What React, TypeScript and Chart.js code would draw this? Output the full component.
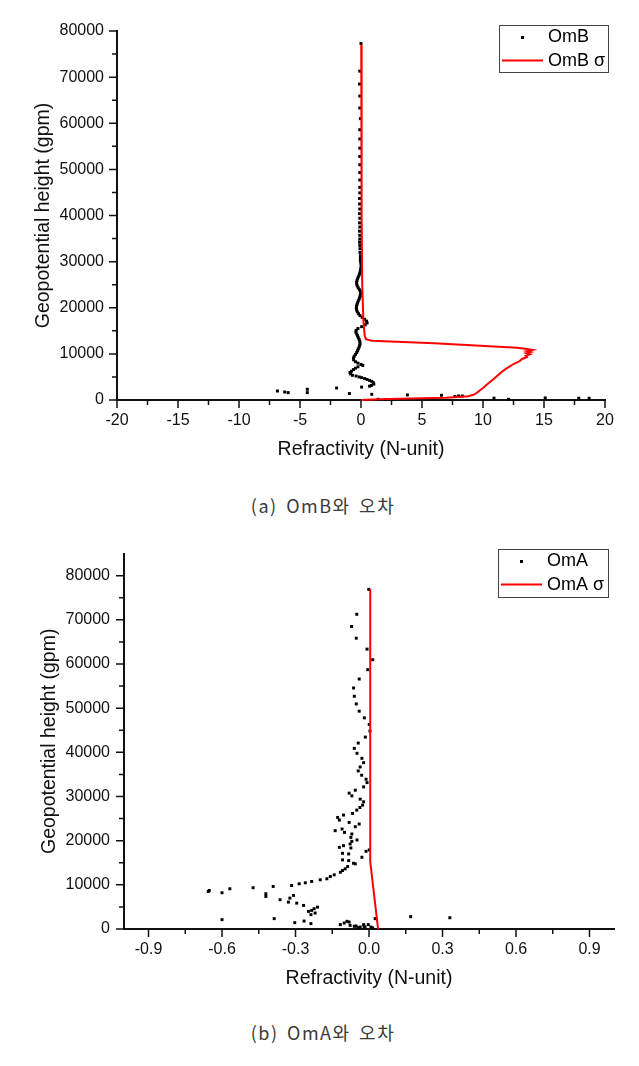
import React, { useEffect, useRef } from 'react';
import { Chart, registerables } from 'chart.js';

Chart.register(...registerables);

const FONT = '"Liberation Sans", Arial, Helvetica, sans-serif';

// ---------------- (a) OmB ----------------
const ombHeight = [
  77300, 71300, 68500, 65900, 63300, 61000, 58600, 56600, 54600, 52800, 51000, 49300, 47700, 46100, 44900,
  43700, 42500, 41400, 40400, 39400, 38400, 37500, 36600, 35700, 34900, 34200, 33500, 32800, 32000, 31300, 30700,
  30300, 29900, 29500, 29100, 28700, 28300, 27900, 27500, 27100, 26700, 26300, 25900, 25500, 25100, 24700,
  24300, 23900, 23500, 23100, 22700, 22300, 21900, 21500, 21100, 20700, 20300, 19900, 19500, 19100, 18700,
  18300, 17900, 17500, 17100, 16700, 16300, 15900, 15500, 15100, 14700, 14300, 13900, 13500, 13100, 12700,
  12300, 11900, 11500, 11100, 10700, 10300, 9900, 9500, 9100, 8700, 8300, 8000, 7700, 7500,
  7200, 6900, 6600, 6250, 5950, 5650, 5350, 5200, 5000, 4850, 4650, 4450, 4250, 4050, 3750, 3450, 3150, 3000,
  2800, 2600, 2320, 1600, 1950, 1730, 1600, 1400, 1230, 1100, 1020, 870, 760, 870, 400, 150, 450, 380, 380,
  140, 110, 90,
];
const ombValue = [
  0.0, -0.1, -0.12, -0.1, -0.1, -0.05, -0.1, -0.1, -0.1, -0.1, -0.1, -0.1, -0.1, -0.1, -0.1,
  -0.12, -0.12, -0.1, -0.12, -0.1, -0.12, -0.1, -0.12, -0.1, -0.1, -0.12, -0.1, -0.08, -0.08, -0.05, -0.05,
  -0.05, -0.02, 0.0, 0.02, 0.0, -0.03, -0.06, -0.1, -0.15, -0.22, -0.28, -0.33, -0.36, -0.35, -0.3,
  -0.22, -0.12, -0.05, -0.03, -0.06, -0.1, -0.15, -0.22, -0.28, -0.33, -0.37, -0.38, -0.36, -0.3, -0.2,
  -0.08, 0.1, 0.3, 0.45, 0.5, 0.35, 0.05, -0.25, -0.4, -0.42, -0.35, -0.28, -0.22, -0.15, -0.1,
  -0.08, -0.1, -0.15, -0.22, -0.28, -0.35, -0.45, -0.55, -0.62, -0.6, -0.45, -0.25, 0.0, 0.15,
  -0.25, -0.45, -0.62, -0.78, -0.9, -0.85, -0.7, -0.4, -0.15, 0.05, 0.3, 0.5, 0.7, 0.88, 1.0, 1.05, 0.85, 0.7,
  0.05, -2.0, -4.4, -4.4, -6.85, -6.25, -5.97, -0.95, 0.88, 3.8, 6.6, 8.0, 7.7, 8.3, 10.9, 12.1, 15.1, 17.85, 18.7,
  1.4, 2.0, 2.6,
];
const ombSigmaHeight = [
  77000, 40000, 25000, 17500, 14000, 13200, 12850, 12300, 11350, 11050, 10850, 10600, 10400, 10150, 9900,
  9600, 9300, 8900, 8400, 7800, 7300, 6800, 6000, 5300, 4400, 3500, 2600, 1800, 1200, 800, 500, 300, 150, 0,
];
const ombSigmaValue = [
  0.02, 0.05, 0.1, 0.19, 0.3, 0.4, 0.9, 6.0, 12.8, 13.6, 14.05, 13.6, 13.9, 13.55, 13.85,
  13.5, 13.6, 13.2, 13.0, 12.5, 12.2, 11.9, 11.5, 11.2, 10.8, 10.4, 10.0, 9.6, 9.3, 8.8, 7.0, 4.0, 1.5, 0.0,
];
const xTicksA = [-20, -15, -10, -5, 0, 5, 10, 15, 20];
const xMinorA = [-17.5, -12.5, -7.5, -2.5, 2.5, 7.5, 12.5, 17.5];
const yTicks = [0, 10000, 20000, 30000, 40000, 50000, 60000, 70000, 80000];
const yMinor = [5000, 15000, 25000, 35000, 45000, 55000, 65000, 75000];

// ---------------- (b) OmA ----------------
const omaHeight = [
  76900, 71260, 68490, 65850, 63370, 60970, 58720, 56600, 54570, 52700, 50960, 49320, 47810, 46320, 44810,
  43450, 42100, 40900, 39780, 38650, 37660, 36690, 35790, 34820, 33910, 33150, 32180, 31430, 30760, 30150,
  29400, 28800, 28050, 27510, 26920, 26160, 25800, 25260, 24670, 24130, 23770, 23160, 22640, 22260, 21870,
  21510, 20750, 20160, 19840, 19260, 18870, 18490, 18350, 17900, 17590, 17140, 17000, 16240, 15650, 15490,
  14880, 14750, 14140, 13620, 13240, 12850, 12270, 11880, 11370, 11140, 10760, 10460, 10240, 9850, 9630,
  9340, 9110, 8730, 8500, 8210, 7600, 7980, 7370, 6990, 6630, 6090, 5860, 5340, 4960, 4600, 4220, 3990,
  3610, 3250, 2350, 2120, 1440, 1800, 1220, 990, 1350, 1740, 1580, 830, 680, 450, 990, 450, 990, 450,
  2340, 2800, 2550, 610, 610, 250, 300,
];
const omaValue = [
  -0.001, -0.05, -0.071, -0.052, -0.008, 0.015, -0.005, -0.04, -0.063, -0.06, -0.052, -0.04, -0.019, 0.001, 0.004,
  -0.015, -0.044, -0.06, -0.049, -0.029, -0.022, -0.036, -0.044, -0.03, -0.012, -0.008, -0.022, -0.056, -0.081, -0.07,
  -0.036, -0.022, -0.026, -0.037, -0.05, -0.067, -0.104, -0.128, -0.121, -0.081, -0.04, -0.056, -0.11, -0.138, -0.1,
  -0.07, -0.074, -0.049, -0.07, -0.077, -0.104, -0.121, -0.074, 0.001, -0.012, -0.108, -0.083, -0.029, -0.108, -0.083,
  -0.063, -0.056, -0.087, -0.097, -0.108, -0.117, -0.142, -0.158, -0.172, -0.199, -0.234, -0.26, -0.285, -0.316, -0.391,
  -0.473, -0.568, -0.652, -0.656, -0.6, -0.308, -0.421, -0.421, -0.323, -0.363, -0.329, -0.295, -0.267, -0.21, -0.224, -0.234, -0.247,
  -0.22, -0.237, -0.387, -0.6, -0.303, -0.265, -0.237, -0.117, -0.101, -0.09, -0.081, -0.077, -0.053, -0.036, -0.022, -0.016, -0.003, 0.008,
  0.025, 0.17, 0.33, -0.06, -0.02, 0.015, -0.045,
];
const omaSigmaHeight = [77000, 15300, 0];
const omaSigmaValue = [0.005, 0.005, 0.037];
const xTicksB = [-0.9, -0.6, -0.3, 0, 0.3, 0.6, 0.9];
const xMinorB = [-0.75, -0.45, -0.15, 0.15, 0.45, 0.75];

const toPoints = (xs: number[], ys: number[]) => xs.map((x, i) => ({ x, y: ys[i] }));

const axisTicksPlugin = {
  id: 'axisTicks',
  afterDraw(chart: any, _args: any, opts: any) {
    const { ctx, chartArea } = chart;
    const xs = chart.scales.x;
    const ys = chart.scales.y;
    ctx.save();
    ctx.strokeStyle = '#111';
    ctx.lineWidth = 1.5;
    ctx.beginPath();
    const b = chartArea.bottom;
    const l = chartArea.left;
    opts.xMajor.forEach((v: number) => {
      const p = xs.getPixelForValue(v);
      ctx.moveTo(p, b); ctx.lineTo(p, b + 8);
    });
    opts.xMinor.forEach((v: number) => {
      const p = xs.getPixelForValue(v);
      ctx.moveTo(p, b); ctx.lineTo(p, b + 5);
    });
    opts.yMajor.forEach((v: number) => {
      const p = ys.getPixelForValue(v);
      ctx.moveTo(l, p); ctx.lineTo(l - 8, p);
    });
    opts.yMinor.forEach((v: number) => {
      const p = ys.getPixelForValue(v);
      ctx.moveTo(l, p); ctx.lineTo(l - 5, p);
    });
    ctx.stroke();
    ctx.restore();
  },
};

const boxLegendPlugin = {
  id: 'boxLegend',
  afterDraw(chart: any, _args: any, opts: any) {
    const { ctx } = chart;
    const { x, y, w, h, labels } = opts;
    ctx.save();
    ctx.fillStyle = '#fff';
    ctx.fillRect(x, y, w, h);
    ctx.strokeStyle = '#444';
    ctx.lineWidth = 1;
    ctx.strokeRect(x + 0.5, y + 0.5, w, h);
    ctx.fillStyle = '#000';
    ctx.fillRect(x + 22, y + 11, 3, 3);
    ctx.strokeStyle = '#ff0000';
    ctx.lineWidth = 2;
    ctx.beginPath();
    ctx.moveTo(x + 3, y + 35.5);
    ctx.lineTo(x + 44, y + 35.5);
    ctx.stroke();
    ctx.fillStyle = '#000';
    ctx.font = `18px ${FONT}`;
    ctx.textBaseline = 'middle';
    ctx.textAlign = 'left';
    ctx.fillText(labels[0], x + 49, y + 12.5);
    ctx.fillText(labels[1], x + 49, y + 36);
    ctx.restore();
  },
};

function buildConfig(p: any) {
  return {
    type: 'scatter',
    data: {
      datasets: [
        {
          label: p.sigmaLabel,
          data: toPoints(p.sigmaX, p.sigmaY),
          showLine: true,
          borderColor: '#ff0000',
          borderWidth: 2,
          pointRadius: 0,
          fill: false,
          tension: 0,
          order: 0,
          clip: false,
        },
        {
          label: p.pointLabel,
          data: toPoints(p.ptX, p.ptY),
          showLine: false,
          pointStyle: 'rect',
          pointRadius: 2.1,
          pointBackgroundColor: '#000',
          pointBorderWidth: 0,
          order: 1,
          clip: false,
        },
      ],
    },
    options: {
      responsive: false,
      animation: false,
      events: [],
      layout: { padding: p.padding },
      plugins: {
        legend: { display: false },
        tooltip: { enabled: false },
        axisTicks: { xMajor: p.xTicks, xMinor: p.xMinor, yMajor: yTicks, yMinor: yMinor },
        boxLegend: p.legend,
      },
      scales: {
        x: {
          type: 'linear',
          min: p.xMin,
          max: p.xMax,
          afterBuildTicks: (s: any) => { s.ticks = p.xTicks.map((v: number) => ({ value: v })); },
          afterFit: (s: any) => { s.height = 61; },
          grid: { display: false, drawTicks: false },
          border: { display: true, color: '#111', width: 2 },
          ticks: {
            autoSkip: false, maxRotation: 0, padding: 11, color: '#111',
            font: { family: FONT, size: 16 },
            callback: (v: number) => p.xFmt(v),
          },
          title: {
            display: true, text: 'Refractivity (N-unit)', color: '#111', padding: 0,
            font: { family: FONT, size: 19.5 },
          },
        },
        y: {
          type: 'linear',
          min: 0,
          max: p.yMax,
          afterBuildTicks: (s: any) => { s.ticks = yTicks.map((v) => ({ value: v })); },
          afterFit: (s: any) => { s.width = p.yWidth; },
          grid: { display: false, drawTicks: false },
          border: { display: true, color: '#111', width: 2 },
          ticks: {
            autoSkip: false, padding: p.yPad, color: '#111',
            font: { family: FONT, size: 16 },
            callback: (v: number) => String(v),
          },
          title: {
            display: true, text: 'Geopotential height (gpm)', color: '#111',
            padding: { top: p.yTitlePad, bottom: 0 },
            font: { family: FONT, size: 19.5 },
          },
        },
      },
    },
    plugins: [axisTicksPlugin, boxLegendPlugin],
  };
}

function ChartPanel({ top, height, cfg }: { top: number; height: number; cfg: any }) {
  const ref = useRef<HTMLCanvasElement | null>(null);
  useEffect(() => {
    const chart = new Chart(ref.current as HTMLCanvasElement, buildConfig(cfg) as any);
    return () => chart.destroy();
  }, []);
  return (
    <canvas
      ref={ref}
      width={639}
      height={height}
      style={{ position: 'absolute', left: 0, top, width: 639, height }}
    />
  );
}

const cfgA = {
  sigmaLabel: 'OmB σ', pointLabel: 'OmB',
  sigmaX: ombSigmaValue, sigmaY: ombSigmaHeight,
  ptX: ombValue, ptY: ombHeight,
  xMin: -20, xMax: 20, yMax: 80000,
  xTicks: xTicksA, xMinor: xMinorA,
  xFmt: (v: number) => String(v),
  padding: { top: 31, right: 34, bottom: 19, left: 0 },
  yWidth: 117, yPad: 13, yTitlePad: 32,
  legend: { x: 499, y: 25, w: 109, h: 47, labels: ['OmB', 'OmB σ'] },
};

const cfgB = {
  sigmaLabel: 'OmA σ', pointLabel: 'OmA',
  sigmaX: omaSigmaValue, sigmaY: omaSigmaHeight,
  ptX: omaValue, ptY: omaHeight,
  xMin: -1, xMax: 1, yMax: 85000,
  xTicks: xTicksB, xMinor: xMinorB,
  xFmt: (v: number) => v.toFixed(1),
  padding: { top: 22, right: 25, bottom: 10, left: 0 },
  yWidth: 124, yPad: 14, yTitlePad: 38,
  legend: { x: 498, y: 19, w: 110, h: 48, labels: ['OmA', 'OmA σ'] },
};

const captionStyle: React.CSSProperties = {
  position: 'absolute', left: 0, width: 646, textAlign: 'center',
  fontFamily: '"Noto Sans CJK KR", sans-serif', fontSize: 18, lineHeight: '20px',
  letterSpacing: 1.5, color: '#3a3a3a', wordSpacing: 3,
};

export default function App() {
  return (
    <div style={{ position: 'fixed', left: 0, top: 0, width: 639, height: 1066, background: '#fff', overflow: 'hidden' }}>
      <ChartPanel top={0} height={480} cfg={cfgA} />
      <div style={{ ...captionStyle, top: 495 }}>(a) OmB와 오차</div>
      <ChartPanel top={530} height={470} cfg={cfgB} />
      <div style={{ ...captionStyle, top: 1022 }}>(b) OmA와 오차</div>
    </div>
  );
}
